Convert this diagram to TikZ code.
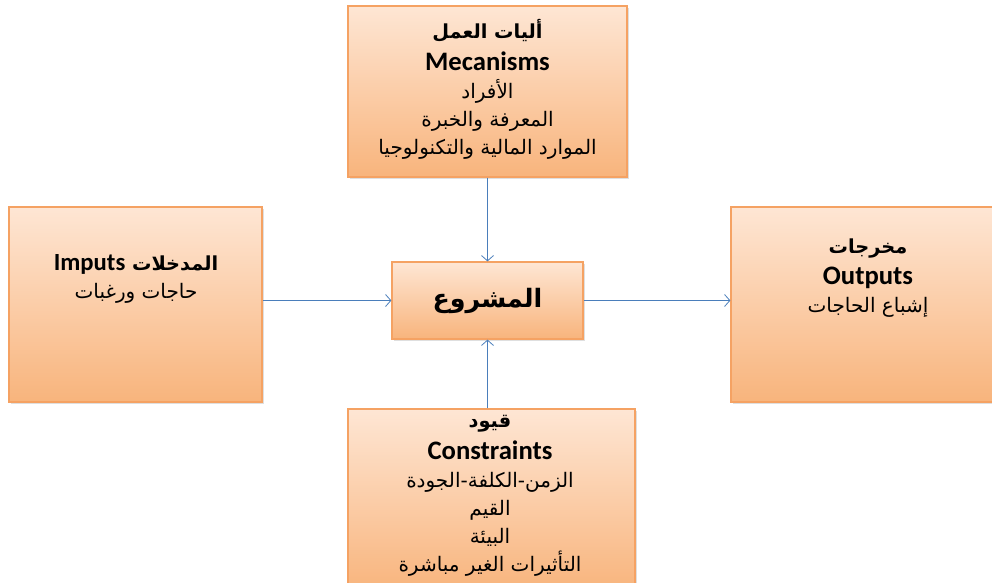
\documentclass[tikz,border=0pt]{standalone}
\usepackage{fontspec}
\usetikzlibrary{arrows.meta,shadows}
\TeXXeTstate=1
\newfontfamily\arabicfont[Script=Arabic]{DejaVu Sans}
\newfontfamily\latinfont{Carlito}
\definecolor{boxtop}{HTML}{FEE6D4}
\definecolor{boxbot}{HTML}{F8B47C}
\definecolor{boxline}{HTML}{F5A263}
\definecolor{linkblue}{HTML}{4A7EBB}
\newcommand{\ar}[1]{{\arabicfont\fontsize{15}{21}\selectfont\beginR #1\endR}}
\newcommand{\arb}[1]{{\arabicfont\bfseries\fontsize{14.5}{21}\selectfont\beginR #1\endR}}
\newcommand{\lt}[1]{{\latinfont\bfseries\fontsize{20}{21}\selectfont #1}}
\tikzset{
  panel/.style={draw=boxline, line width=0.9pt, top color=boxtop, bottom color=boxbot,
    drop shadow={shadow xshift=1.5pt, shadow yshift=-1.5pt, opacity=0.25},
    inner sep=0pt},
  caption/.style={align=center, font=\fontsize{15}{21}\selectfont, inner sep=0pt},
  link/.style={draw=linkblue, line width=0.6pt, -{Straight Barb[length=4pt,width=9pt]}}
}
\begin{document}
\begin{tikzpicture}[x=0.75pt,y=-0.75pt]
\clip (0,0) rectangle (992,582);
\fill[white] (0,0) rectangle (992,582);

% boxes
\node[panel, minimum width=209.25pt, minimum height=128.25pt] (mech) at (487.5,91.5) {};
\node[panel, minimum width=189.75pt, minimum height=146.25pt] (inp) at (135.5,304.5) {};
\node[panel, minimum width=201.75pt, minimum height=146.25pt] (outp) at (865.5,304.5) {};
\node[panel, minimum width=215.25pt, minimum height=137.25pt] (cons) at (491.5,500.5) {};
\node[panel, minimum width=143.25pt, minimum height=57.75pt] (proj) at (487.5,300.5) {};

% texts
\node[caption, anchor=north] (mechtxt) at (487.5,19) {%
  \arb{أليات العمل}\\[3pt]
  \lt{Mecanisms}\\
  \ar{الأفراد}\\
  \ar{المعرفة والخبرة}\\
  \ar{الموارد المالية والتكنولوجيا}};
\node[caption, anchor=north] (inptxt) at (136,254) {%
  {\arabicfont\bfseries\fontsize{14.5}{21}\selectfont\beginR المدخلات \beginL\latinfont\fontsize{18.5}{21}\selectfont Imputs\endL\endR}\\
  \ar{حاجات ورغبات}};
\node[caption, anchor=north] (outptxt) at (868,239) {%
  \arb{مخرجات}\\[2pt]
  \lt{Outputs}\\
  \ar{إشباع الحاجات}};
\node[caption, anchor=north] (constxt) at (490,415) {%
  \arb{قيود}\\[3pt]
  \lt{Constraints}\\
  \ar{الزمن-الكلفة-الجودة}\\
  \ar{القيم}\\
  \ar{البيئة}\\
  \ar{التأثيرات الغير مباشرة}};
\node (projtxt) at (proj) {{\arabicfont\bfseries\fontsize{19}{22}\selectfont\beginR المشروع\endR}};

% connectors
\draw[link] (mech.south) -- (proj.north);
\draw[link] (cons.north -| proj.south) -- (proj.south);
\draw[link] (inp.east |- proj.west) -- (proj.west);
\draw[link] (proj.east) -- (outp.west |- proj.east);
\end{tikzpicture}
\end{document}
